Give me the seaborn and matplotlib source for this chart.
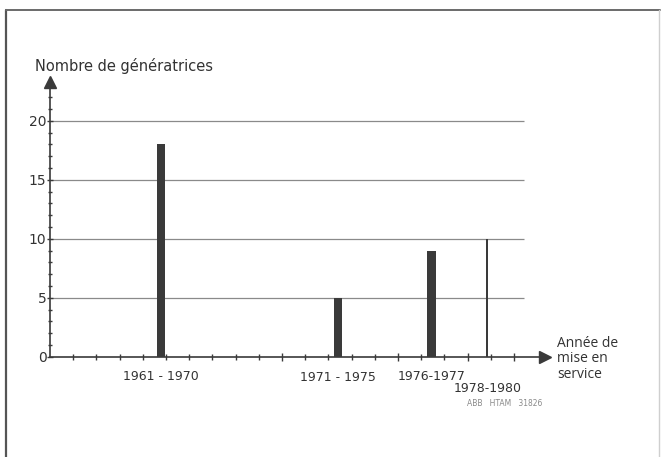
import pandas as pd
import numpy as np
import matplotlib
matplotlib.use('Agg')
import matplotlib.pyplot as plt
import seaborn as sns
from matplotlib.lines import Line2D

# data
periods = ['1961 - 1970', '1971 - 1975', '1976-1977', '1978-1980']
counts = [18, 5, 9, 10]
# where each bar sits on the year scale
bar_year = [1964.8, 1972.4, 1976.45, 1978.85]
y_ticks = [0, 5, 10, 15, 20]
grid_levels = [5, 10, 15, 20]

df = pd.DataFrame({'period': periods, 'count': counts, 'year': bar_year})

sns.set_style('white')
plt.rcParams['font.family'] = ['DejaVu Sans']

ink = '#3a3a3a'
txt = '#333333'
fig = plt.figure(figsize=(6.62, 4.57), dpi=100)
ax = fig.add_axes([50 / 662, 1 - 356.7 / 457, 495 / 662, 274.7 / 457])

sns.barplot(data=df, x='year', y='count', native_scale=True, color=ink,
            saturation=1, errorbar=None, ax=ax)

# bar widths in years (last period is only a thin stroke)
widths = [0.35, 0.35, 0.37, 0.08]
for patch, xc, w in zip(ax.patches, bar_year, widths):
    patch.set_width(w)
    patch.set_x(xc - w / 2)
    patch.set_edgecolor('none')

ax.set_xlim(1960, 1960 + 495 / 23.2)
ax.set_ylim(0, 23.28)
ax.hlines(grid_levels, 1960, 1980.43, color='#8a8a8a', lw=0.9, zorder=0)

# axes with arrow heads
for side in ['top', 'right']:
    ax.spines[side].set_visible(False)
for side in ['left', 'bottom']:
    ax.spines[side].set_color(ink)
    ax.spines[side].set_linewidth(1.2)
ax.plot(1, 0, '>', color=ink, ms=8, transform=ax.transAxes, clip_on=False)
ax.plot(0, 1, '^', color=ink, ms=8, transform=ax.transAxes, clip_on=False)

ax.set_yticks(y_ticks)
ax.set_yticklabels([str(v) for v in y_ticks])
ax.set_yticks(np.arange(0, 23), minor=True)
ax.set_xticks([1970, 1975, 1978, 1980])
ax.set_xticklabels([])
ax.set_xticks(np.arange(1961, 1981), minor=True)
ax.tick_params(which='both', bottom=True, left=True)
ax.tick_params(axis='y', which='major', direction='inout', length=5, width=1,
               color=ink, labelcolor=txt, labelsize=10, pad=0)
ax.tick_params(axis='y', which='minor', direction='inout', length=3, width=1, color=ink)
ax.tick_params(axis='x', which='major', direction='inout', length=6, width=1, color=ink)
ax.tick_params(axis='x', which='minor', direction='inout', length=4, width=1, color=ink)
ax.set_xlabel('')
ax.set_ylabel('')

# period labels under the axis
offsets = [-14, -15, -14.5, -23]
for name, xc, dy in zip(periods, bar_year, offsets):
    ax.annotate(name, xy=(xc, 0), xytext=(0, dy), textcoords='offset points',
                ha='center', va='center', fontsize=9, color=txt)

fig.text(35 / 662, 1 - 66 / 457, 'Nombre de génératrices', fontsize=10.5,
         color=txt, ha='left', va='center')
fig.text(557 / 662, 1 - 359 / 457, 'Année de\nmise en\nservice', fontsize=10,
         color=txt, ha='left', va='center', linespacing=1.05,
         family='Open Sans')
fig.text(505 / 662, 1 - 404 / 457, 'ABB   HTAM   31826', fontsize=5.5,
         color='#8a8a8a', ha='center', va='center')

# outer frame of the scanned page
fig.add_artist(Line2D([6 / 662, 6 / 662], [0, 1 - 10 / 457], color='#555555', lw=1.6))
fig.add_artist(Line2D([6 / 662, 660 / 662], [1 - 10 / 457, 1 - 10 / 457],
                      color='#6a6a6a', lw=1.4))
fig.add_artist(Line2D([659 / 662, 659 / 662], [0, 1 - 10 / 457], color='#cfcfcf', lw=1))

fig.savefig('out.png', dpi=100)
